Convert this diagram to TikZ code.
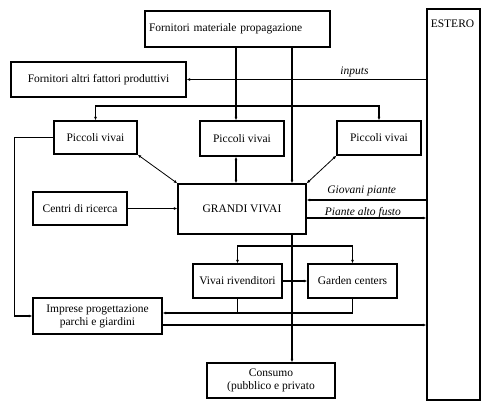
\documentclass[tikz,border=0pt]{standalone}
\usepackage{fontspec}
\setmainfont{Liberation Serif}
\usetikzlibrary{arrows.meta,calc}
\begin{document}
\begin{tikzpicture}[x=1pt,y=-1pt,
  box/.style={draw,line width=1.4pt,inner sep=0pt,font=\fontsize{11.5}{13}\selectfont},
  conn/.style={line width=1.4pt},
  arr/.style={conn,-{Latex[length=3.5pt,width=3pt]}},
  thinarr/.style={line width=0.8pt,{Latex[length=3.5pt,width=3pt]}-{Latex[length=3.5pt,width=3pt]}},
  dblarr/.style={conn,{Latex[length=3.5pt,width=3pt]}-{Latex[length=3.5pt,width=3pt]}},
  lab/.style={font=\fontsize{11.5}{13}\selectfont\itshape,inner sep=0pt}]
\useasboundingbox (0,0) rectangle (491,409);

% boxes
\node[box,minimum width=185pt,minimum height=36pt,text width=177pt,align=left] (fmp) at (237.5,29) {Fornitori materiale propagazione};
\node[box,minimum width=53pt,minimum height=391pt] (estero) at (453.5,204.5) {};
\node[font=\fontsize{11.5}{13}\selectfont,inner sep=0pt] (esterotxt) at (452.5,24) {ESTERO};
\node[box,minimum width=175pt,minimum height=35pt] (fafp) at (98.5,79.5) {Fornitori altri fattori produttivi};
\node[box,minimum width=83pt,minimum height=33pt] (pv1) at (95.5,137.5) {Piccoli vivai};
\node[box,minimum width=84pt,minimum height=35pt] (pv2) at (242,138.5) {Piccoli vivai};
\node[box,minimum width=84pt,minimum height=34pt] (pv3) at (379,138) {Piccoli vivai};
\node[box,minimum width=128pt,minimum height=50pt] (gv) at (242,209) {GRANDI VIVAI};
\node[box,minimum width=94pt,minimum height=33pt] (cdr) at (80,208.5) {Centri di ricerca};
\node[box,minimum width=89pt,minimum height=34pt] (vr) at (237.5,281) {Vivai rivenditori};
\node[box,minimum width=89pt,minimum height=34pt] (gc) at (352.5,281) {Garden centers};
\node[box,minimum width=129pt,minimum height=36pt,align=center] (imp) at (97.5,316) {Imprese progettazione\\parchi e giardini};
\node[box,minimum width=128pt,minimum height=35pt,align=center] (cons) at (271,380.5) {Consumo\\(pubblico e privato};

% from Fornitori materiale propagazione
\coordinate (split) at ([xshift=-6pt]pv2.north |- 0,106);
\draw[arr] ([xshift=-6pt]pv2.north |- fmp.south) -- ([xshift=-6pt]pv2.north);
\draw[arr] ([xshift=50pt]gv.north |- fmp.south) -- ([xshift=50pt]gv.north);
\draw[arr] (split) -| (pv1.north);
\draw[arr] (split) -| (pv3.north);

% inputs
\draw[arr] (estero.west |- fafp.east) -- node[lab,pos=0.3,yshift=8pt] (inp) {inputs} (fafp.east);

% piccoli vivai <-> grandi vivai
\draw[thinarr] (pv1.south east) -- (gv.north west);
\draw[dblarr] ([xshift=-6pt]pv2.south) -- ([xshift=-6pt]pv2.south |- gv.north);
\draw[thinarr] (pv3.south west) -- (gv.north east);

% piccoli vivai -> imprese
\draw[arr] (pv1.west) -- ++(-39,0) |- (imp.west);

% centri di ricerca
\draw[arr] (cdr.east) -- (gv.west |- cdr.east);

% estero <-> grandi vivai
\draw[arr] (estero.west |- 0,200) -- node[lab,above=3pt,pos=0.54] (gp) {Giovani piante} ([yshift=9pt]gv.east);
\draw[arr] ([yshift=-9pt]gv.east) -- node[lab,above=-1pt,pos=0.47] (paf) {Piante alto fusto} (estero.west |- 0,218);

% grandi vivai -> consumo
\draw[arr] ([xshift=50pt]gv.south) -- ([xshift=50pt]gv.south |- cons.north);
\coordinate (split2) at ([xshift=50pt]gv.south |- 0,246);
\draw[arr] (split2) -| (vr.north);
\draw[arr] (split2) -| (gc.north);

% vivai rivenditori -> garden centers
\draw[arr] (vr.east) -- (gc.west);

% to imprese
\coordinate (jn) at (vr.south |- 0,313);
\draw[conn] (vr.south) -- (jn);
\draw[arr] (gc.south) |- ([yshift=3pt]imp.east);

% imprese -> estero
\draw[arr] ([yshift=-9pt]imp.east) -- (estero.west |- 0,325);
\end{tikzpicture}
\end{document}
